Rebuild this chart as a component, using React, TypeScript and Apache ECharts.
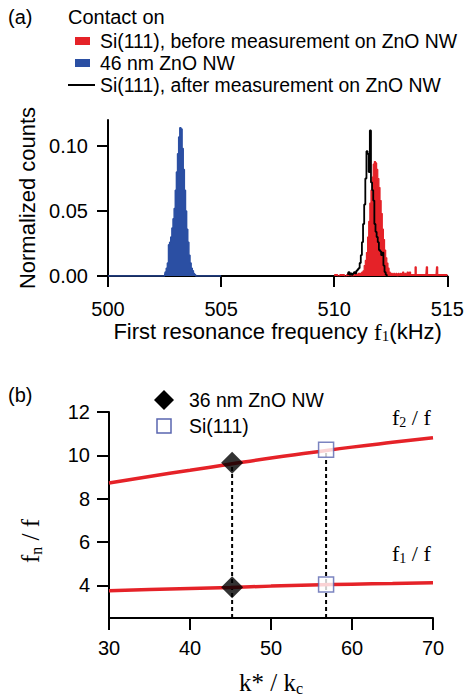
import React, { useEffect, useRef } from "react";
import * as echarts from "echarts";

// ---------- Panel (a): histograms (frequency kHz, normalized counts) ----------
const blueHist: [number, number][] = [
  [500.0, 0], [502.5, 0], [502.55, 0.003], [502.6, 0.006], [502.65, 0.01], [502.7, 0.024],
  [502.75, 0.026], [502.8, 0.03], [502.85, 0.037], [502.9, 0.044], [502.95, 0.052],
  [503.0, 0.066], [503.05, 0.08], [503.1, 0.094], [503.15, 0.107], [503.2, 0.114],
  [503.25, 0.113], [503.3, 0.098], [503.35, 0.082], [503.4, 0.066], [503.45, 0.05],
  [503.5, 0.036], [503.55, 0.026], [503.6, 0.016], [503.65, 0.01], [503.7, 0.006],
  [503.75, 0.004], [503.8, 0.002], [503.85, 0.001], [503.9, 0], [505.0, 0],
];

const redHist: [number, number][] = [
  [510.0, 0.001], [510.1, 0.001], [510.2, 0], [510.3, 0.001], [510.4, 0.001], [510.5, 0],
  [510.6, 0.001], [510.7, 0.001], [510.8, 0], [510.9, 0.001], [511.0, 0.001], [511.1, 0.002],
  [511.2, 0.002], [511.25, 0.003], [511.3, 0.004], [511.35, 0.008], [511.4, 0.012],
  [511.45, 0.018], [511.5, 0.03], [511.55, 0.042], [511.6, 0.056], [511.65, 0.066],
  [511.7, 0.076], [511.75, 0.086], [511.8, 0.088], [511.85, 0.087], [511.9, 0.082],
  [511.95, 0.075], [512.0, 0.068], [512.05, 0.058], [512.1, 0.048], [512.15, 0.036],
  [512.2, 0.028], [512.25, 0.02], [512.3, 0.014], [512.35, 0.01], [512.4, 0.006],
  [512.45, 0.003], [512.5, 0.002], [512.55, 0.002], [512.6, 0.001], [512.65, 0.002],
  [512.7, 0.001], [512.75, 0.002], [512.8, 0], [512.85, 0.002], [512.9, 0.001],
  [512.95, 0.002], [513.0, 0.001], [513.05, 0.003], [513.1, 0.001], [513.15, 0.002],
  [513.2, 0.001], [513.25, 0.003], [513.3, 0.001], [513.35, 0.003], [513.4, 0.001],
  [513.45, 0.001], [513.5, 0.001], [513.55, 0.001], [513.6, 0.007], [513.65, 0.001],
  [513.7, 0.001], [513.8, 0.001], [513.9, 0.001], [514.0, 0.001], [514.05, 0.001],
  [514.1, 0.007], [514.15, 0.001], [514.2, 0.001], [514.3, 0.001], [514.4, 0.001],
  [514.5, 0.001], [514.55, 0.007], [514.6, 0.001], [514.7, 0.001], [514.8, 0.001],
  [514.9, 0.001], [515.0, 0.001],
];

const blackHist: [number, number][] = [
  [510.6, 0.001], [510.65, 0.003], [510.7, 0.001], [510.75, 0.002], [510.8, 0.001],
  [510.85, 0.002], [510.9, 0.003], [510.95, 0.002], [511.0, 0.004], [511.05, 0.005],
  [511.1, 0.006], [511.15, 0.01], [511.2, 0.016], [511.25, 0.026], [511.3, 0.04],
  [511.35, 0.055], [511.4, 0.075], [511.45, 0.096], [511.5, 0.094], [511.55, 0.08],
  [511.6, 0.112], [511.65, 0.072], [511.7, 0.066], [511.75, 0.058], [511.8, 0.04],
  [511.85, 0.034], [511.9, 0.03], [511.95, 0.026], [512.0, 0.02], [512.05, 0.019],
  [512.1, 0.016], [512.15, 0.018], [512.2, 0.008], [512.25, 0.003], [512.3, 0.001],
  [512.35, 0],
];

const aXTicks = [500, 505, 510, 515];
const aYTicks = [0, 0.05, 0.1];

// ---------- Panel (b): fn/f versus k*/kc ----------
const kRatio = [30, 35, 40, 45, 50, 55, 60, 65, 70];
const f2Ratio = [8.73, 9.03, 9.31, 9.6, 9.88, 10.13, 10.38, 10.6, 10.81];
const f1Ratio = [3.76, 3.81, 3.86, 3.91, 3.97, 4.02, 4.06, 4.09, 4.12];

const zno36: [number, number][] = [[45.2, 9.66], [45.2, 3.92]];
const si111: [number, number][] = [[56.8, 10.26], [56.8, 4.04]];

const bYTicks = [4, 6, 8, 10, 12];
const bYMin = 2.5;

const RED = "#e52228";
const BLUE = "#2b4fa3";
const SANS = "'Liberation Sans', Arial, Helvetica, sans-serif";
const SERIF = "'Liberation Serif', 'Times New Roman', serif";

const serifRich = {
  m: { fontFamily: SERIF, fontSize: 22, color: "#000", fill: "#000", lineHeight: 24 },
  sub: { fontFamily: SERIF, fontSize: 14, color: "#000", fill: "#000", lineHeight: 8, verticalAlign: "bottom" },
};
const serifRichBig = {
  m: { fontFamily: SERIF, fontSize: 25, color: "#000", fill: "#000", lineHeight: 28 },
  sub: { fontFamily: SERIF, fontSize: 16, color: "#000", fill: "#000", lineHeight: 8, verticalAlign: "bottom" },
};

export default function App() {
  const ref = useRef<HTMLDivElement>(null);

  useEffect(() => {
    if (!ref.current) return;
    const chart = echarts.init(ref.current, undefined, { renderer: "svg" });

    const axisCommon = {
      axisLine: { show: true, lineStyle: { color: "#000", width: 2 } },
      axisTick: { show: true, inside: false, lineStyle: { color: "#000", width: 2 } },
      splitLine: { show: false },
      axisLabel: { color: "#000", fontFamily: SANS, fontSize: 20 },
    };

    const dashLine = (pts: [number, number][]) =>
      [[pts[0][0], bYMin], [pts[0][0], Math.max(...pts.map((p) => p[1]))]];

    const legendText = (x: number, y: number, text: string, size = 19.4) => ({
      type: "text",
      x,
      y,
      style: { text, font: `${size}px ${SANS}`, fill: "#000", verticalAlign: "middle", textVerticalAlign: "middle" },
    });

    const option: any = {
      animation: false,
      backgroundColor: "#fff",
      grid: [
        { left: 108, right: 19, top: 120, height: 156 },
        { left: 109, right: 34, top: 412, height: 206 },
      ],
      xAxis: [
        {
          ...axisCommon,
          gridIndex: 0,
          type: "value",
          min: 500,
          max: 515,
          interval: 5,
          axisTick: { ...axisCommon.axisTick, length: 11, customValues: aXTicks },
          axisLabel: { ...axisCommon.axisLabel, margin: 23, customValues: aXTicks },
          name: "{s|First resonance frequency }{m|f}{sub|1}{s|(kHz)}",
          nameLocation: "middle",
          nameGap: 41,
          nameTextStyle: {
            rich: {
              s: { fontFamily: SANS, fontSize: 22, color: "#000", lineHeight: 24 },
              m: { ...serifRich.m, fontSize: 24 },
              sub: { ...serifRich.sub, fontSize: 15 },
            },
          },
        },
        {
          ...axisCommon,
          gridIndex: 1,
          type: "value",
          min: 30,
          max: 70,
          interval: 10,
          axisTick: { ...axisCommon.axisTick, length: 12 },
          axisLabel: { ...axisCommon.axisLabel, margin: 20 },
          name: "{m|k* / k}{sub|c}",
          nameLocation: "middle",
          nameGap: 50,
          nameTextStyle: { rich: serifRichBig },
        },
      ],
      yAxis: [
        {
          ...axisCommon,
          gridIndex: 0,
          type: "value",
          min: 0,
          max: 0.12,
          axisTick: { ...axisCommon.axisTick, length: 11, customValues: aYTicks },
          axisLabel: {
            ...axisCommon.axisLabel,
            margin: 20,
            customValues: aYTicks,
            formatter: (v: number) => v.toFixed(2),
          },
          name: "Normalized counts",
          nameLocation: "middle",
          nameGap: 68,
          nameTextStyle: { fontFamily: SANS, fontSize: 22, color: "#000" },
        },
        {
          ...axisCommon,
          gridIndex: 1,
          type: "value",
          min: bYMin,
          max: 12,
          axisTick: { ...axisCommon.axisTick, length: 12, customValues: bYTicks },
          axisLabel: { ...axisCommon.axisLabel, margin: 19, customValues: bYTicks },
        },
      ],
      series: [
        {
          name: "46 nm ZnO NW",
          type: "line",
          xAxisIndex: 0,
          yAxisIndex: 0,
          data: blueHist,
          step: "middle",
          symbol: "none",
          lineStyle: { color: BLUE, width: 1.5 },
          areaStyle: { color: BLUE, opacity: 1 },
          z: 3,
        },
        {
          name: "Si(111), before measurement on ZnO NW",
          type: "line",
          xAxisIndex: 0,
          yAxisIndex: 0,
          data: redHist,
          step: "middle",
          symbol: "none",
          lineStyle: { color: RED, width: 1.2 },
          areaStyle: { color: RED, opacity: 1 },
          z: 3,
        },
        {
          name: "Si(111), after measurement on ZnO NW",
          type: "line",
          xAxisIndex: 0,
          yAxisIndex: 0,
          data: blackHist,
          step: "middle",
          symbol: "none",
          lineStyle: { color: "#000", width: 1.8 },
          z: 4,
        },
        {
          name: "f2/f",
          type: "line",
          xAxisIndex: 1,
          yAxisIndex: 1,
          data: kRatio.map((k, i) => [k, f2Ratio[i]]),
          smooth: true,
          symbol: "none",
          lineStyle: { color: RED, width: 3.5 },
          z: 3,
        },
        {
          name: "f1/f",
          type: "line",
          xAxisIndex: 1,
          yAxisIndex: 1,
          data: kRatio.map((k, i) => [k, f1Ratio[i]]),
          smooth: true,
          symbol: "none",
          lineStyle: { color: RED, width: 3.5 },
          z: 3,
        },
        {
          name: "dash36",
          type: "line",
          xAxisIndex: 1,
          yAxisIndex: 1,
          data: dashLine(zno36),
          symbol: "none",
          lineStyle: { color: "#000", width: 2, type: [4, 3] },
          z: 2,
        },
        {
          name: "dashSi",
          type: "line",
          xAxisIndex: 1,
          yAxisIndex: 1,
          data: dashLine(si111),
          symbol: "none",
          lineStyle: { color: "#000", width: 2, type: [4, 3] },
          z: 2,
        },
        {
          name: "36 nm ZnO NW",
          type: "scatter",
          xAxisIndex: 1,
          yAxisIndex: 1,
          data: zno36,
          symbol: "diamond",
          symbolSize: 22,
          itemStyle: { color: "#000" },
          z: 5,
        },
        {
          name: "Si(111)",
          type: "scatter",
          xAxisIndex: 1,
          yAxisIndex: 1,
          data: si111,
          symbol: "rect",
          symbolSize: 15,
          itemStyle: { color: "#fff", borderColor: "#5a65b0", borderWidth: 1.5 },
          z: 5,
        },
      ],
      graphic: [
        legendText(8, 17, "(a)", 20),
        legendText(68, 17, "Contact on", 20),
        { type: "rect", shape: { x: 75, y: 37, width: 15, height: 8 }, style: { fill: RED } },
        legendText(100, 41, "Si(111), before measurement on ZnO NW"),
        { type: "rect", shape: { x: 75, y: 59, width: 15, height: 8 }, style: { fill: BLUE } },
        legendText(100, 63, "46 nm ZnO NW"),
        { type: "line", shape: { x1: 68, y1: 85, x2: 95, y2: 85 }, style: { stroke: "#000", lineWidth: 2 } },
        legendText(100, 85, "Si(111), after measurement on ZnO NW"),

        legendText(8, 395, "(b)", 20),
        { type: "polygon", shape: { points: [[164, 390], [174, 400], [164, 410], [154, 400]] }, style: { fill: "#000" } },
        legendText(189, 400, "36 nm ZnO NW"),
        { type: "rect", shape: { x: 157, y: 419, width: 14, height: 14 }, style: { fill: "#fff", stroke: "#5a65b0", lineWidth: 1.5 } },
        legendText(189, 426, "Si(111)"),
        {
          type: "text", x: 392, y: 417,
          style: { text: "{m|f}{sub|2}{m| / f}", verticalAlign: "middle", textVerticalAlign: "middle", rich: serifRich },
        },
        {
          type: "text", x: 392, y: 553,
          style: { text: "{m|f}{sub|1}{m| / f}", verticalAlign: "middle", textVerticalAlign: "middle", rich: serifRich },
        },
        {
          type: "text", x: 30, y: 541, rotation: Math.PI / 2,
          style: {
            text: "{m|f}{sub|n}{m| / f}",
            align: "center", textAlign: "center",
            verticalAlign: "middle", textVerticalAlign: "middle",
            rich: serifRichBig,
          },
        },
      ],
    };

    chart.setOption(option);
    return () => chart.dispose();
  }, []);

  return (
    <div
      ref={ref}
      style={{ position: "absolute", left: 0, top: 0, width: 467, height: 700, background: "#fff" }}
    />
  );
}
